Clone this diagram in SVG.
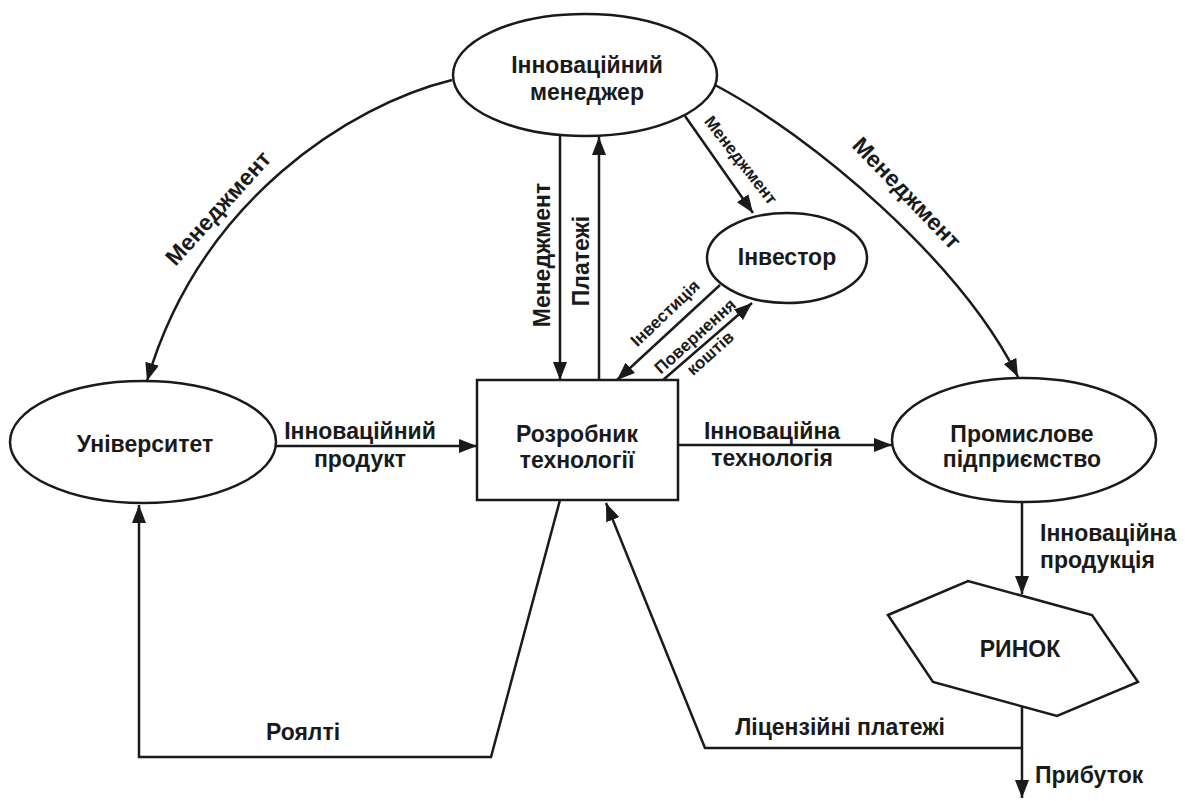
<svg xmlns="http://www.w3.org/2000/svg" width="1185" height="801" viewBox="0 0 1185 801">
<style>
.node{fill:#fff;stroke:#1a1a1a;stroke-width:2.5}
.t{font-family:"Liberation Sans",Arial,sans-serif;font-weight:bold;font-size:23px;fill:#1a1a1a;text-anchor:middle}
.s{font-size:17px}
.c{fill:none;stroke:#1a1a1a;stroke-width:2.5}
</style>
<defs>
<marker id="ah" markerUnits="userSpaceOnUse" markerWidth="20" markerHeight="14" refX="18" refY="7" orient="auto">
<path d="M0,0 L18,7 L0,14 z" fill="#1a1a1a"/>
</marker>
</defs>
<rect width="1185" height="801" fill="#fff"/>
<g id="connectors">
<path class="c" d="M452,80 C350,105 200,200 147,381" marker-end="url(#ah)"/>
<path class="c" d="M715,85 C810,135 960,260 1018,377" marker-end="url(#ah)"/>
<path class="c" d="M560,136 L560,380" marker-end="url(#ah)"/>
<path class="c" d="M599,380 L599,137" marker-end="url(#ah)"/>
<path class="c" d="M685,116 L753,213" marker-end="url(#ah)"/>
<path class="c" d="M720,285 L617,380" marker-end="url(#ah)"/>
<path class="c" d="M663,380 L752,303" marker-end="url(#ah)"/>
<path class="c" d="M276,446 L477,446" marker-end="url(#ah)"/>
<path class="c" d="M678,445 L892,445" marker-end="url(#ah)"/>
<path class="c" d="M1022,502 L1022,594" marker-end="url(#ah)"/>
<path class="c" d="M1022,706 L1022,798" marker-end="url(#ah)"/>
<path class="c" d="M1022,748 L705,748 L606,503" marker-end="url(#ah)"/>
<path class="c" d="M560,500 L491,757 L139,757 L139,505" marker-end="url(#ah)"/>
<text class="t" transform="translate(218,208) rotate(-48)" y="8">Менеджмент</text>
<text class="t" transform="translate(907,193) rotate(46)" y="8">Менеджмент</text>
<text class="t s" transform="translate(741,160) rotate(52)" y="6">Менеджмент</text>
<text class="t" transform="translate(542,255) rotate(-90)" y="8">Менеджмент</text>
<text class="t" transform="translate(581,261) rotate(-90)" y="8">Платежі</text>
<text class="t s" transform="translate(665,313) rotate(-43.5)" y="6">Інвестиція</text>
<text class="t s" transform="translate(695,336) rotate(-42)" y="6">Повернення</text>
<text class="t s" transform="translate(710,353) rotate(-42)" y="6">коштів</text>
<text class="t" x="360" y="439">Інноваційний</text>
<text class="t" x="360" y="467">продукт</text>
<text class="t" x="772" y="439">Інноваційна</text>
<text class="t" x="772" y="466">технологія</text>
<text class="t" x="1040" y="541" style="text-anchor:start">Інноваційна</text>
<text class="t" x="1040" y="568" style="text-anchor:start">продукція</text>
<text class="t" x="1035" y="783" style="text-anchor:start">Прибуток</text>
<text class="t" x="303" y="740">Роялті</text>
<text class="t" x="840" y="735">Ліцензійні платежі</text>
</g>
<g id="manager">
<ellipse class="node" cx="585" cy="75" rx="132" ry="61"/>
<text class="t" x="587" y="73">Інноваційний</text>
<text class="t" x="587" y="100">менеджер</text>
</g>
<g id="investor">
<ellipse class="node" cx="787" cy="258" rx="80" ry="45"/>
<text class="t" x="787" y="265">Інвестор</text>
</g>
<g id="university">
<ellipse class="node" cx="143" cy="442" rx="133" ry="61"/>
<text class="t" x="145" y="452">Університет</text>
</g>
<g id="developer">
<rect class="node" x="477" y="380" width="201" height="120"/>
<text class="t" x="577" y="442">Розробник</text>
<text class="t" x="577" y="468">технології</text>
</g>
<g id="industry">
<ellipse class="node" cx="1024" cy="440" rx="132" ry="62"/>
<text class="t" x="1022" y="442">Промислове</text>
<text class="t" x="1022" y="467">підприємство</text>
</g>
<g id="market">
<polygon class="node" points="888,615 968,581 1092,615 1138,682 1057,716 933,682"/>
<text class="t" x="1020" y="657">РИНОК</text>
</g>
</svg>
